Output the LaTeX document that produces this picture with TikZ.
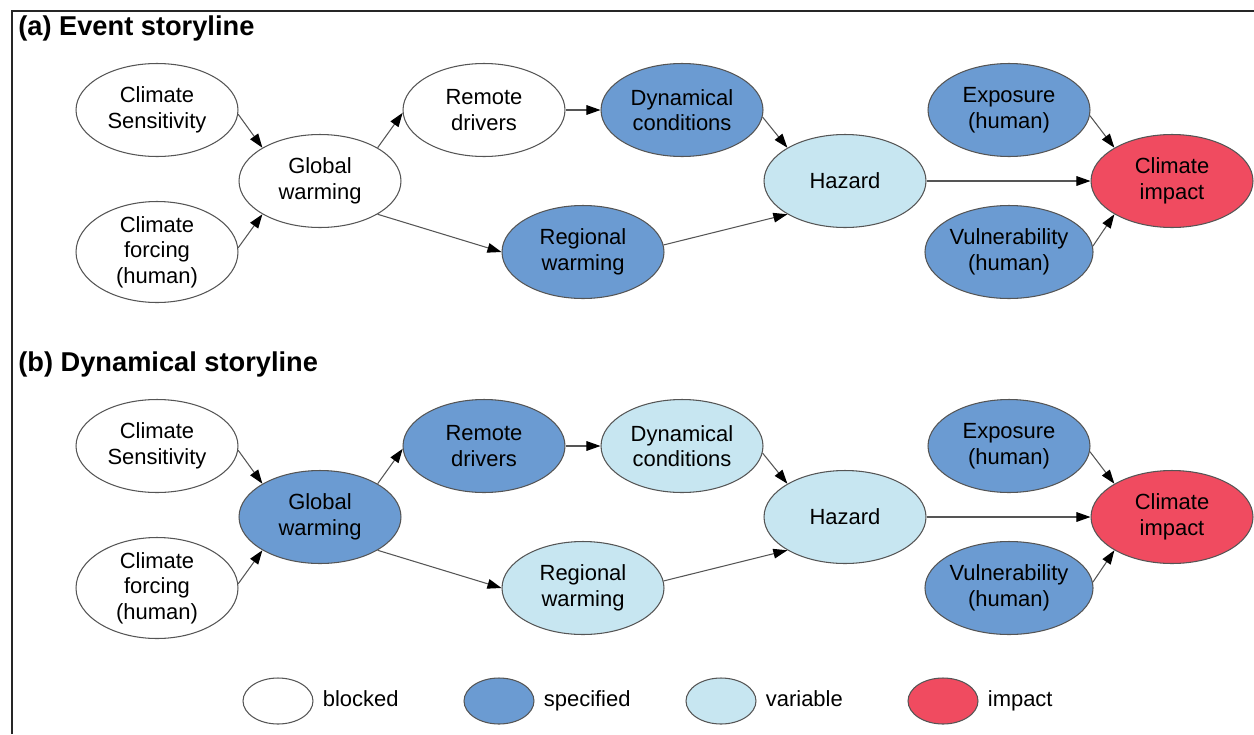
\documentclass[tikz,border=0pt]{standalone}
\usepackage{fontspec}
\setmainfont{Liberation Sans}
\usetikzlibrary{arrows.meta,shapes.geometric,positioning}
\definecolor{cSpec}{RGB}{107,155,210}
\definecolor{cVar}{RGB}{199,230,241}
\definecolor{cImp}{RGB}{240,75,96}
\definecolor{cLine}{RGB}{85,85,85}

\tikzset{
  elli/.style={ellipse,draw=cLine,line width=0.6pt,minimum width=3.24cm,minimum height=1.86cm,
    inner sep=0pt,align=center,font=\fontsize{12.5}{14.5}\selectfont},
  nBlocked/.style={fill=white},
  nSpecified/.style={fill=cSpec},
  nVariable/.style={fill=cVar},
  nImpact/.style={fill=cImp},
  link/.style={draw=cLine,line width=0.6pt,-{Triangle[length=8pt,width=5.5pt,color=black]}},
  paneltitle/.style={anchor=west,inner sep=0pt,font=\fontsize{15.5}{18}\selectfont\bfseries},
  keytext/.style={inner sep=0pt,text height=1.6ex,text depth=0.5ex,font=\fontsize{12.5}{14.5}\selectfont}
}

\begin{document}
\begin{tikzpicture}[x=0.02cm,y=-0.02cm]
  \useasboundingbox (0,0) rectangle (1254,734);
  \draw[line width=1.1pt,black!85] (12,734) -- (12,11) -- (1254,11);
  \node[paneltitle] (titleA) at (18,28) {(a) Event storyline};
  \node[paneltitle] (titleB) at (18,364) {(b) Dynamical storyline};
  % both storylines, shifted by \dy
  \foreach \p/\dy/\sg/\sr/\sd/\sw in {a/0/nBlocked/nBlocked/nSpecified/nSpecified,
                                     b/336/nSpecified/nSpecified/nVariable/nVariable}{
    \node[elli,nBlocked] (\p-sens) at (157,110+\dy) {Climate\\Sensitivity};
    \node[elli,nBlocked] (\p-forc) at (157,252+\dy) {Climate\\forcing\\(human)};
    \node[elli,\sg] (\p-glob) at (320,181+\dy) {Global\\warming};
    \node[elli,\sr] (\p-rem) at (484,110+\dy) {Remote\\drivers};
    \node[elli,\sd] (\p-dyn) at (682,110+\dy) {Dynamical\\conditions};
    \node[elli,\sw] (\p-reg) at (583,252+\dy) {Regional\\warming};
    \node[elli,nVariable] (\p-haz) at (845,181+\dy) {Hazard};
    \node[elli,nSpecified] (\p-expo) at (1009,110+\dy) {Exposure\\(human)};
    \node[elli,nSpecified] (\p-vuln) at (1009,252+\dy) {Vulnerability\\(human)};
    \node[elli,nImpact] (\p-imp) at (1172,181+\dy) {Climate\\impact};
    \draw[link] (\p-sens.-3) -- (\p-glob.150);
    \draw[link] (\p-forc.3) -- (\p-glob.210);
    \draw[link] (\p-glob.30) -- (\p-rem.182);
    \draw[link] (\p-glob.-30) -- (\p-reg.180);
    \draw[link] (\p-rem.0) -- (\p-dyn.180);
    \draw[link] (\p-dyn.-5) -- (\p-haz.150);
    \draw[link] (\p-reg.5) -- (\p-haz.210);
    \draw[link] (\p-haz.0) -- (\p-imp.180);
    \draw[link] (\p-expo.-4) -- (\p-imp.150);
    \draw[link] (\p-vuln.4) -- (\p-imp.210);
  }
  % legend
  \foreach \kstyle/\kx/\ktext in {nBlocked/278/blocked,nSpecified/499/specified,
                                  nVariable/721/variable,nImpact/943/impact}{
    \node[elli,\kstyle,minimum width=1.4cm,minimum height=0.92cm] (key-\ktext) at (\kx,701) {};
    \node[keytext,right=0.18cm of key-\ktext] (lbl-\ktext) {\ktext};
  }
\end{tikzpicture}
\end{document}
